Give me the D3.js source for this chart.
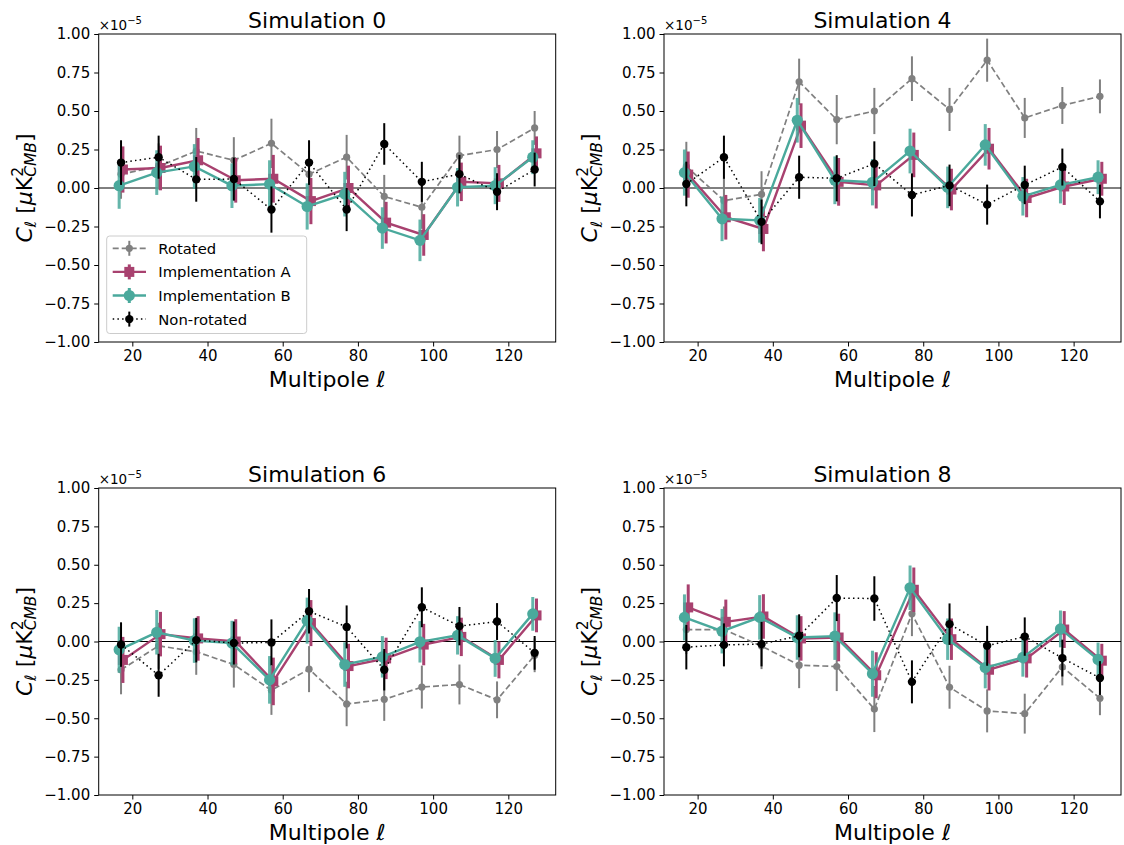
<!DOCTYPE html>
<html><head><meta charset="utf-8">
<script src="https://cdn.jsdelivr.net/npm/d3@7"></script>
<style>
body{margin:0;background:#fff;}
svg text{font-family:"DejaVu Sans",sans-serif;fill:#000;}
</style>
</head><body>
<svg id="chart" width="1124" height="845"></svg>
<script>
// ---------------- data ----------------
const ells = [17, 27, 37, 47, 57, 67, 77, 87, 97, 107, 117, 127];
const xTicks = [20, 40, 60, 80, 100, 120];
const yTicks = [-1.0, -0.75, -0.5, -0.25, 0.0, 0.25, 0.5, 0.75, 1.0];
const simTitles = ["Simulation 0", "Simulation 4", "Simulation 6", "Simulation 8"];
const seriesNames = ["Rotated", "Implementation A", "Implementation B", "Non-rotated"];

// values in units of 1e-5 uK^2
const rotated0 = [0.09, 0.14, 0.24, 0.18, 0.29, 0.09, 0.20, -0.055, -0.125, 0.21, 0.25, 0.39];
const implA0   = [0.12, 0.13, 0.18, 0.05, 0.06, -0.085, 0.00, -0.225, -0.305, 0.04, 0.03, 0.225];
const implB0   = [0.015, 0.10, 0.14, 0.015, 0.025, -0.12, -0.04, -0.26, -0.34, 0.005, 0.015, 0.20];
const nonRot0  = [0.165, 0.20, 0.056, 0.058, -0.14, 0.165, -0.14, 0.286, 0.04, 0.09, -0.024, 0.12];

const rotated4 = [0.14, -0.082, -0.041, 0.69, 0.444, 0.50, 0.71, 0.51, 0.83, 0.455, 0.536, 0.595];
const implA4   = [0.087, -0.19, -0.266, 0.405, 0.04, 0.017, 0.215, -0.01, 0.255, -0.065, 0.01, 0.06];
const implB4   = [0.10, -0.20, -0.21, 0.44, 0.05, 0.037, 0.24, 0.004, 0.28, -0.054, 0.02, 0.07];
const nonRot4  = [0.026, 0.20, -0.22, 0.07, 0.063, 0.158, -0.045, 0.017, -0.108, 0.02, 0.136, -0.087];

const rotated6 = [-0.184, -0.028, -0.067, -0.15, -0.318, -0.18, -0.407, -0.377, -0.297, -0.28, -0.38, -0.09];
const implA6   = [-0.12, 0.048, 0.02, 0.0, -0.26, 0.12, -0.16, -0.11, -0.02, 0.03, -0.12, 0.17];
const implB6   = [-0.054, 0.06, 0.006, -0.01, -0.25, 0.136, -0.15, -0.10, -0.002, 0.04, -0.11, 0.18];
const nonRot6  = [-0.02, -0.22, 0.009, -0.01, -0.006, 0.197, 0.095, -0.184, 0.223, 0.10, 0.13, -0.074];

const rotated8 = [0.078, 0.078, -0.03, -0.154, -0.163, -0.44, 0.18, -0.298, -0.452, -0.47, -0.166, -0.37];
const implA8   = [0.222, 0.128, 0.163, 0.02, 0.026, -0.22, 0.337, 0.015, -0.184, -0.11, 0.078, -0.125];
const implB8   = [0.157, 0.067, 0.157, 0.026, 0.035, -0.21, 0.35, 0.015, -0.17, -0.104, 0.082, -0.117];
const nonRot8  = [-0.037, -0.022, -0.017, 0.037, 0.283, 0.28, -0.263, 0.113, -0.028, 0.032, -0.108, -0.238];

// error bars (1 sigma), per multipole bin
const errRotated = [0.16, 0.15, 0.15, 0.15, 0.16, 0.15, 0.145, 0.14, 0.14, 0.13, 0.12, 0.11];
const errImpl    = [0.15, 0.145, 0.145, 0.145, 0.155, 0.15, 0.145, 0.135, 0.135, 0.125, 0.12, 0.11];
const errNonRot  = [0.145, 0.14, 0.145, 0.14, 0.15, 0.145, 0.14, 0.135, 0.13, 0.125, 0.12, 0.11];

// ---------------- layout / style ----------------
const panelBoxes = [
  {x0: 98.7, y0: 34, x1: 555.7, y1: 342},
  {x0: 664, y0: 34, x1: 1121, y1: 342},
  {x0: 98.7, y0: 488, x1: 555.7, y1: 795},
  {x0: 664, y0: 488, x1: 1121, y1: 795}
];
const panelData = [
  [rotated0, implA0, implB0, nonRot0],
  [rotated4, implA4, implB4, nonRot4],
  [rotated6, implA6, implB6, nonRot6],
  [rotated8, implA8, implB8, nonRot8]
];
const errs = [errRotated, errImpl, errImpl, errNonRot];
const styles = [
  {color: "#808080", dash: "6,3", lw: 1.7, marker: "circle", size: 3.6, ebw: 2, dx: 0, ebOpacity: 1},
  {color: "#a8416f", dash: null, lw: 2.4, marker: "square", size: 10, ebw: 3, dx: 0.5, ebOpacity: 1},
  {color: "#4aa99c", dash: null, lw: 2.4, marker: "circle", size: 5.6, ebw: 3, dx: -0.5, ebOpacity: 0.85},
  {color: "#000000", dash: "1.5,3.2", lw: 1.5, marker: "circle", size: 4.2, ebw: 2, dx: 0, ebOpacity: 1}
];
const xDomain = [11.06, 132.6];
const fmtY = d3.format(".2f");

const svg = d3.select("#chart");

function drawMarker(sel, st, cx, cy) {
  if (st.marker === "square") {
    sel.append("rect").attr("x", cx - st.size / 2).attr("y", cy - st.size / 2)
      .attr("width", st.size).attr("height", st.size).attr("fill", st.color);
  } else {
    sel.append("circle").attr("cx", cx).attr("cy", cy).attr("r", st.size).attr("fill", st.color);
  }
}

panelBoxes.forEach((b, pi) => {
  const w = b.x1 - b.x0, h = b.y1 - b.y0;
  const g = svg.append("g").attr("transform", `translate(${b.x0},${b.y0})`);
  const x = d3.scaleLinear().domain(xDomain).range([0, w]);
  const y = d3.scaleLinear().domain([-1, 1]).range([h, 0]);

  // zero line
  g.append("line").attr("x1", 0).attr("x2", w).attr("y1", y(0)).attr("y2", y(0))
    .attr("stroke", "#000").attr("stroke-width", 1);

  // series
  panelData[pi].forEach((vals, si) => {
    const st = styles[si];
    const err = errs[si];
    const pts = vals.map((v, i) => ({x: ells[i] + st.dx, v: v, e: err[i]}));
    const sg = g.append("g");
    sg.selectAll("line.eb").data(pts).enter().append("line")
      .attr("x1", d => x(d.x)).attr("x2", d => x(d.x))
      .attr("y1", d => y(d.v - d.e)).attr("y2", d => y(d.v + d.e))
      .attr("stroke", st.color).attr("stroke-width", st.ebw).attr("opacity", st.ebOpacity);
    const line = d3.line().x(d => x(d.x)).y(d => y(d.v));
    sg.append("path").datum(pts).attr("d", line).attr("fill", "none")
      .attr("stroke", st.color).attr("stroke-width", st.lw)
      .attr("stroke-dasharray", st.dash);
    pts.forEach(d => drawMarker(sg, st, x(d.x), y(d.v)));
  });

  // axes
  const ax = g.append("g").attr("transform", `translate(0,${h})`)
    .call(d3.axisBottom(x).tickValues(xTicks).tickSize(4.5).tickPadding(3.5).tickFormat(d3.format("d")));
  const ay = g.append("g")
    .call(d3.axisLeft(y).tickValues(yTicks).tickSize(4.5).tickPadding(4).tickFormat(fmtY));
  [ax, ay].forEach(a => {
    a.select(".domain").remove();
    a.selectAll(".tick line").attr("stroke", "#000").attr("stroke-width", 1);
    a.selectAll(".tick text").attr("font-size", 15).attr("font-family", "DejaVu Sans").attr("fill", "#000");
  });

  // frame
  g.append("rect").attr("x", 0).attr("y", 0).attr("width", w).attr("height", h)
    .attr("fill", "none").attr("stroke", "#000").attr("stroke-width", 1);

  // title
  g.append("text").attr("x", w / 2 - 10).attr("y", -6).attr("text-anchor", "middle")
    .attr("font-size", 22).text(simTitles[pi]);

  // offset text
  const ot = g.append("text").attr("x", 0).attr("y", -4).attr("font-size", 13.5);
  ot.append("tspan").text("×10");
  ot.append("tspan").attr("dy", -6).attr("font-size", 10).text("−5");

  // x label
  const xl = g.append("text").attr("x", w / 2).attr("y", h + 45).attr("text-anchor", "middle")
    .attr("font-size", 22);
  xl.append("tspan").text("Multipole ");
  xl.append("tspan").attr("font-style", "italic").text("ℓ");

  // y label
  const yl = g.append("text").attr("transform", `translate(${-67},${h / 2}) rotate(-90)`)
    .attr("text-anchor", "middle").attr("font-size", 22);
  yl.append("tspan").attr("font-style", "italic").text("C");
  yl.append("tspan").attr("font-style", "italic").attr("font-size", 15.5).attr("dy", 4.5).text("ℓ");
  yl.append("tspan").attr("dy", -4.5).text(" [");
  yl.append("tspan").attr("font-style", "italic").text("μ");
  yl.append("tspan").text("K");
  yl.append("tspan").attr("font-size", 15.5).attr("dy", -9).text("2");
  yl.append("tspan").attr("font-size", 15.5).attr("font-style", "italic").attr("dx", -9.9).attr("dy", 13.5).text("CMB");
  yl.append("tspan").attr("dy", -4.5).text("]");

  // legend in first panel
  if (pi === 0) {
    const lg = g.append("g").attr("transform", `translate(${106.7 - b.x0},${236 - b.y0})`);
    lg.append("rect").attr("x", 0).attr("y", 0).attr("width", 200).attr("height", 97.5)
      .attr("rx", 3).attr("fill", "#fff").attr("fill-opacity", 0.8)
      .attr("stroke", "#cccccc").attr("stroke-width", 1);
    seriesNames.forEach((name, si) => {
      const st = styles[si];
      const cy = 12.3 + si * 23.6;
      lg.append("line").attr("x1", 6).attr("x2", 39.3).attr("y1", cy).attr("y2", cy)
        .attr("stroke", st.color).attr("stroke-width", st.lw).attr("stroke-dasharray", st.dash);
      lg.append("line").attr("x1", 22.6).attr("x2", 22.6).attr("y1", cy - 7.5).attr("y2", cy + 7.5)
        .attr("stroke", st.color).attr("stroke-width", st.ebw);
      drawMarker(lg, st, 22.6, cy);
      lg.append("text").attr("x", 51.6).attr("y", cy + 5.4).attr("font-size", 14.8).text(name);
    });
  }
});
</script>
</body></html>
